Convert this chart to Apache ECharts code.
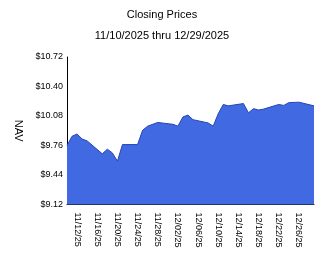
<!DOCTYPE html>
<html><head><meta charset="utf-8">
<script src="https://cdn.jsdelivr.net/npm/echarts@6/dist/echarts.min.js"></script>
<style>html,body{margin:0;padding:0;background:#fff}#c{width:324px;height:267px}</style>
</head><body><div id="c"></div>
<script>
var calendarDays = ["11/10/25","11/11/25","11/12/25","11/13/25","11/14/25","11/15/25","11/16/25","11/17/25","11/18/25","11/19/25","11/20/25","11/21/25","11/22/25","11/23/25","11/24/25","11/25/25","11/26/25","11/27/25","11/28/25","11/29/25","11/30/25","12/01/25","12/02/25","12/03/25","12/04/25","12/05/25","12/06/25","12/07/25","12/08/25","12/09/25","12/10/25","12/11/25","12/12/25","12/13/25","12/14/25","12/15/25","12/16/25","12/17/25","12/18/25","12/19/25","12/20/25","12/21/25","12/22/25","12/23/25","12/24/25","12/25/25","12/26/25","12/27/25","12/28/25","12/29/25"];
var tradeDates = ["11/10/25","11/11/25","11/12/25","11/13/25","11/14/25","11/17/25","11/18/25","11/19/25","11/20/25","11/21/25","11/24/25","11/25/25","11/26/25","11/28/25","12/01/25","12/02/25","12/03/25","12/04/25","12/05/25","12/08/25","12/09/25","12/10/25","12/11/25","12/12/25","12/15/25","12/16/25","12/17/25","12/18/25","12/19/25","12/22/25","12/23/25","12/24/25","12/26/25","12/29/25"];
var navValues = [9.76,9.86,9.885,9.83,9.81,9.67,9.72,9.68,9.59,9.77,9.77,9.925,9.97,10.01,9.99,9.97,10.07,10.09,10.04,10.005,9.97,10.105,10.205,10.19,10.215,10.115,10.16,10.145,10.155,10.205,10.195,10.225,10.23,10.19];
var yMin = 9.12, yMax = 10.72, yStep = 0.32;
var titleText = "Closing Prices";
var subTitleText = "11/10/2025 thru 12/29/2025";

var font = "Liberation Sans, Arial, sans-serif";
var chart = echarts.init(document.getElementById('c'), null, {renderer:'canvas'});
var seriesData = tradeDates.map(function(d,i){ return [d, navValues[i]]; });
chart.setOption({
  animation:false,
  title:[
    {text:titleText, left:'center', top:4, textStyle:{fontFamily:font, fontSize:11, fontWeight:'normal', color:'#000'}},
    {text:subTitleText, left:'center', top:25, textStyle:{fontFamily:font, fontSize:11, fontWeight:'normal', color:'#000'}}
  ],
  grid:{left:67, right:10, top:57, bottom:62.5, containLabel:false},
  xAxis:{
    type:'category', data:calendarDays, boundaryGap:false,
    axisLine:{lineStyle:{color:'#000', width:1}},
    axisTick:{show:false},
    axisLabel:{rotate:-90, margin:8, fontFamily:font, fontSize:9, color:'#000',
      interval:function(idx){ return idx % 4 === 2; }},
    splitLine:{show:false}
  },
  yAxis:{
    type:'value', min:yMin, max:yMax, interval:yStep,
    name:'NAV', nameLocation:'middle', nameRotate:-90, nameGap:43,
    nameTextStyle:{fontFamily:font, fontSize:11, color:'#000'},
    axisLine:{show:true, lineStyle:{color:'#000', width:1}},
    axisTick:{show:false},
    axisLabel:{margin:4, fontFamily:font, fontSize:9, color:'#000',
      formatter:function(v){ return '$' + v.toFixed(2); }},
    splitLine:{show:false}
  },
  series:[{
    type:'line', data:seriesData, symbol:'none',
    lineStyle:{color:'#2346b0', width:1},
    areaStyle:{color:'#4169E1', opacity:1}
  }]
});
</script></body></html>
